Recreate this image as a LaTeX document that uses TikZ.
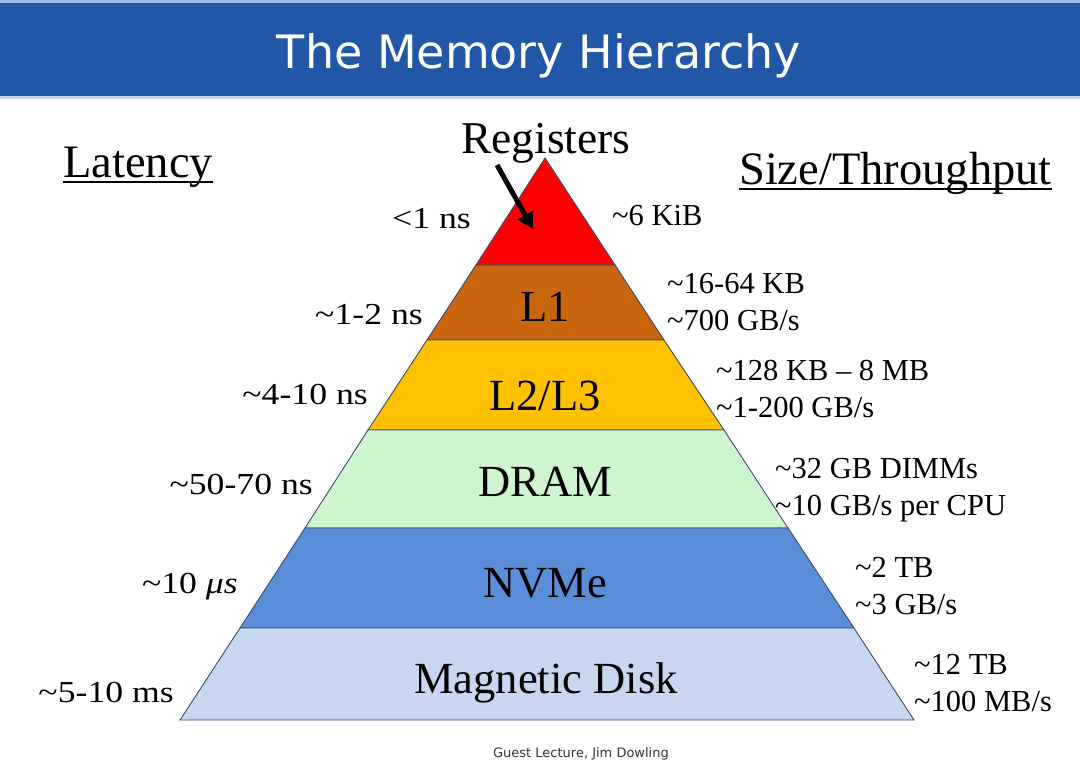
\documentclass[tikz,border=0pt]{standalone}
\usepackage{fontspec}
\setmainfont{Liberation Serif}
\newfontfamily\titlefont{DejaVu Sans}
\usetikzlibrary{arrows.meta}
\definecolor{barblue}{HTML}{2157A6}
\definecolor{barlight}{HTML}{9DB8E4}
\definecolor{cReg}{HTML}{FF0000}
\definecolor{cLone}{HTML}{C8650D}
\definecolor{cLtwo}{HTML}{FFC000}
\definecolor{cDram}{HTML}{CFF5CF}
\definecolor{cNvme}{HTML}{5B8ED8}
\definecolor{cDisk}{HTML}{C6D7EF}
\definecolor{edge}{HTML}{3A4A6A}
\tikzset{
  band/.style={draw=edge, line width=0.9pt},
  rlab/.style={font=\fontsize{30.5}{33}\selectfont, inner sep=0pt, anchor=base west},
  llab/.style={font=\fontsize{30.5}{33}\selectfont, inner sep=0pt, anchor=base east, xscale=1.17, transform shape},
  blab/.style={font=\fontsize{44.5}{48}\selectfont, inner sep=0pt, anchor=base},
  head/.style={font=\fontsize{46.5}{50}\selectfont, inner sep=0pt, anchor=base west},
}
\begin{document}
\begin{tikzpicture}[x=1pt,y=-1pt]
\useasboundingbox (0,0) rectangle (1080,763);
% title bar
\fill[barlight] (0,0) rectangle (1080,4);
\fill[barblue] (0,3) rectangle (1080,96);
\fill[barlight!60] (0,96) rectangle (1080,99);
\node[font=\titlefont\fontsize{46}{50}\selectfont, text=white, inner sep=0pt, anchor=base] (title) at (539,68) {The Memory Hierarchy};
% pyramid coordinates
\coordinate (apex) at (545,158);
\coordinate (l1) at (476,265); \coordinate (r1) at (615,265);
\coordinate (l2) at (427,340); \coordinate (r2) at (664,340);
\coordinate (l3) at (368,430); \coordinate (r3) at (724,430);
\coordinate (l4) at (305,528); \coordinate (r4) at (788,528);
\coordinate (l5) at (240,628); \coordinate (r5) at (854,628);
\coordinate (l6) at (180,720); \coordinate (r6) at (914,720);
\filldraw[band, fill=cReg] (apex) -- (r1) -- (l1) -- cycle;
\filldraw[band, fill=cLone] (l1) -- (r1) -- (r2) -- (l2) -- cycle;
\filldraw[band, fill=cLtwo] (l2) -- (r2) -- (r3) -- (l3) -- cycle;
\filldraw[band, fill=cDram] (l3) -- (r3) -- (r4) -- (l4) -- cycle;
\filldraw[band, fill=cNvme] (l4) -- (r4) -- (r5) -- (l5) -- cycle;
\filldraw[band, fill=cDisk] (l5) -- (r5) -- (r6) -- (l6) -- cycle;
% band labels
\node[blab] (nL1) at (545,321) {L1};
\node[blab] (nL23) at (545,410) {L2/L3};
\node[blab] (nDram) at (545,496) {DRAM};
\node[blab] (nNvme) at (545,597) {NVMe};
\node[blab] (nDisk) at (546,693) {Magnetic Disk};
% registers
\node[font=\fontsize{45.5}{49}\selectfont, inner sep=0pt, anchor=base] (reg) at (546,153) {Registers};
\coordinate (arrTail) at (497,165);
\coordinate (arrTip) at (533,229);
\draw[line width=5pt, -{Triangle[length=16pt,width=17pt]}] (arrTail) -- (arrTip);
% headers
\node[head] (lat) at (63,177) {Latency};
\draw[line width=1.8pt] ([yshift=-5pt]lat.base west) coordinate (latU1) -- ([yshift=-5pt]lat.base east) coordinate (latU2);
\node[head] (size) at (739,184) {Size/Throughput};
\draw[line width=1.8pt] ([yshift=-5pt]size.base west) coordinate (sizeU1) -- ([yshift=-5pt]size.base east) coordinate (sizeU2);
% right labels
\node[rlab] (s0) at (612,225) {\textasciitilde6 KiB};
\node[rlab] (s1a) at (667,293) {\textasciitilde16-64 KB};
\node[rlab] (s1b) at (667,330) {\textasciitilde700 GB/s};
\node[rlab] (s2a) at (716,380) {\textasciitilde128 KB – 8 MB};
\node[rlab] (s2b) at (716,417) {\textasciitilde1-200 GB/s};
\node[rlab] (s3a) at (775,478) {\textasciitilde32 GB DIMMs};
\node[rlab] (s3b) at (775,515) {\textasciitilde10 GB/s per CPU};
\node[rlab] (s4a) at (855,577) {\textasciitilde2 TB};
\node[rlab] (s4b) at (855,614) {\textasciitilde3 GB/s};
\node[rlab] (s5a) at (914,674) {\textasciitilde12 TB};
\node[rlab] (s5b) at (914,711) {\textasciitilde100 MB/s};
% left labels
\node[llab] (t0) at (471,228) {<1 ns};
\node[llab] (t1) at (423,324) {\textasciitilde1-2 ns};
\node[llab] (t2) at (368,404) {\textasciitilde4-10 ns};
\node[llab] (t3) at (313,494) {\textasciitilde50-70 ns};
\node[llab] (t4) at (238,593) {\textasciitilde10 \textit{μs}};
\node[llab] (t5) at (174,702) {\textasciitilde5-10 ms};
% footer
\node[font=\titlefont\fontsize{13}{15}\selectfont, text=black!80, inner sep=0pt, anchor=base] (foot) at (581,757) {Guest Lecture, Jim Dowling};
\end{tikzpicture}
\end{document}
